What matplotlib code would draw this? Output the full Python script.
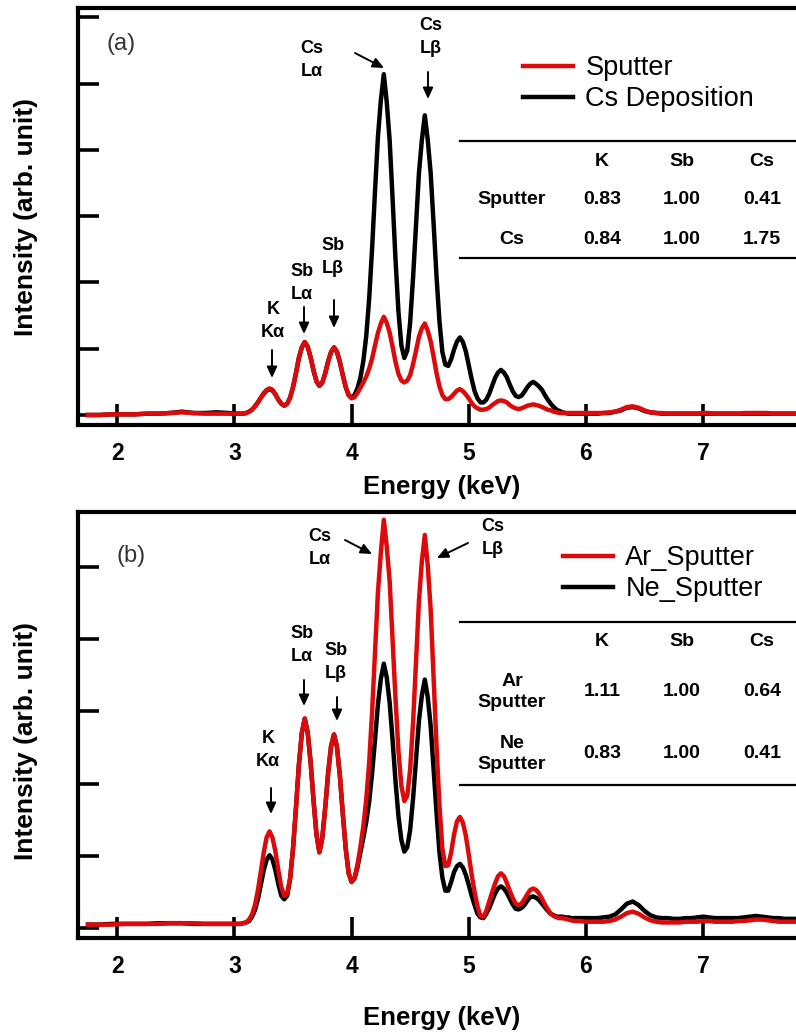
import matplotlib
matplotlib.use("Agg")
import matplotlib.pyplot as plt
from matplotlib.patches import FancyArrowPatch
import numpy as np

plt.rcParams['font.family'] = ['Liberation Sans', 'DejaVu Sans']

W, H = 796, 1034

# energy grid (keV): coarse on the flat part, fine over the peaks
e_low = np.round(np.arange(1.75, 2.96, 0.1), 3)
e_mid = np.round(np.arange(3.0, 5.9001, 0.025), 3)
e_high = np.round(np.arange(5.95, 7.8501, 0.05), 3)
energy = np.concatenate([e_low, e_mid, e_high])

# panel (a): Sputter vs Cs Deposition
sputter_a = ([0.00, 0.00, 0.01, 0.01, 0.01, 0.02, 0.02, 0.03, 0.04, 0.03, 0.02, 0.02, 0.02] +
             [0.02, 0.02, 0.02, 0.02, 0.03, 0.05, 0.08, 0.13, 0.19, 0.26,
              0.33, 0.38, 0.40, 0.38, 0.31, 0.23, 0.17, 0.14, 0.17, 0.26,
              0.42, 0.63, 0.86, 1.02, 1.10, 1.03, 0.87, 0.67, 0.51, 0.44,
              0.49, 0.63, 0.81, 0.95, 1.02, 0.95, 0.80, 0.60, 0.42, 0.30,
              0.25, 0.27, 0.33, 0.41, 0.49, 0.58, 0.70, 0.85, 1.05, 1.24,
              1.38, 1.48, 1.39, 1.24, 1.03, 0.80, 0.62, 0.52, 0.49, 0.52,
              0.60, 0.77, 0.97, 1.18, 1.31, 1.38, 1.27, 1.11, 0.88, 0.63,
              0.43, 0.30, 0.24, 0.24, 0.27, 0.32, 0.37, 0.39, 0.36, 0.31,
              0.25, 0.18, 0.13, 0.10, 0.08, 0.08, 0.09, 0.11, 0.15, 0.18,
              0.21, 0.22, 0.21, 0.19, 0.15, 0.12, 0.10, 0.09, 0.10, 0.12,
              0.14, 0.15, 0.16, 0.15, 0.14, 0.12, 0.10, 0.08, 0.07, 0.05,
              0.04, 0.03, 0.03, 0.03, 0.03, 0.03, 0.03] +
             [0.03, 0.03, 0.03, 0.03, 0.03, 0.04, 0.05, 0.08, 0.12, 0.13,
              0.11, 0.07, 0.04, 0.03, 0.03, 0.02, 0.02, 0.02, 0.02, 0.02,
              0.02, 0.03, 0.03, 0.02, 0.02, 0.02, 0.02, 0.02, 0.03, 0.03,
              0.03, 0.03, 0.03, 0.02, 0.02, 0.02, 0.02, 0.02, 0.02])
csdep_a = ([0.00, 0.00, 0.01, 0.01, 0.01, 0.02, 0.02, 0.03, 0.05, 0.03, 0.03, 0.04, 0.03] +
           [0.02, 0.02, 0.02, 0.02, 0.03, 0.05, 0.08, 0.13, 0.19, 0.26,
            0.32, 0.37, 0.39, 0.37, 0.31, 0.23, 0.17, 0.14, 0.17, 0.26,
            0.42, 0.63, 0.86, 1.02, 1.10, 1.03, 0.87, 0.67, 0.51, 0.44,
            0.49, 0.63, 0.81, 0.95, 1.02, 0.95, 0.80, 0.60, 0.42, 0.30,
            0.26, 0.30, 0.40, 0.56, 0.81, 1.19, 1.75, 2.51, 3.38, 4.20,
            4.75, 5.14, 4.72, 4.14, 3.26, 2.34, 1.56, 1.05, 0.86, 0.97,
            1.40, 2.08, 2.88, 3.65, 4.15, 4.52, 4.15, 3.65, 2.89, 2.09,
            1.41, 0.95, 0.76, 0.74, 0.84, 0.99, 1.11, 1.17, 1.10, 0.96,
            0.75, 0.54, 0.36, 0.25, 0.19, 0.19, 0.23, 0.32, 0.44, 0.56,
            0.64, 0.68, 0.64, 0.57, 0.46, 0.36, 0.29, 0.27, 0.29, 0.35,
            0.42, 0.47, 0.50, 0.47, 0.43, 0.38, 0.30, 0.23, 0.17, 0.12,
            0.08, 0.06, 0.04, 0.03, 0.02, 0.02, 0.02] +
           [0.02, 0.02, 0.02, 0.02, 0.03, 0.03, 0.05, 0.07, 0.11, 0.12,
            0.10, 0.06, 0.04, 0.03, 0.02, 0.02, 0.02, 0.02, 0.02, 0.02,
            0.02, 0.02, 0.02, 0.02, 0.02, 0.02, 0.02, 0.02, 0.02, 0.02,
            0.02, 0.02, 0.02, 0.02, 0.02, 0.02, 0.02, 0.02, 0.02])

# panel (b): Ar_Sputter vs Ne_Sputter
ar_b = ([0.05, 0.05, 0.05, 0.06, 0.06, 0.06, 0.06, 0.07, 0.07, 0.07, 0.06, 0.06, 0.06] +
        [0.06, 0.06, 0.06, 0.07, 0.08, 0.12, 0.19, 0.32, 0.52, 0.78,
         1.05, 1.26, 1.34, 1.25, 1.06, 0.80, 0.57, 0.45, 0.48, 0.69,
         1.10, 1.66, 2.26, 2.70, 2.90, 2.71, 2.30, 1.77, 1.30, 1.05,
         1.25, 1.67, 2.15, 2.52, 2.68, 2.51, 2.11, 1.58, 1.10, 0.76,
         0.64, 0.70, 0.88, 1.12, 1.41, 1.78, 2.29, 2.99, 3.82, 4.65,
         5.20, 5.65, 5.28, 4.80, 4.00, 3.17, 2.45, 1.97, 1.76, 1.83,
         2.20, 2.85, 3.68, 4.53, 5.08, 5.44, 5.02, 4.41, 3.48, 2.52,
         1.70, 1.10, 0.86, 0.87, 1.05, 1.30, 1.48, 1.54, 1.46, 1.28,
         1.02, 0.74, 0.50, 0.30, 0.17, 0.16, 0.24, 0.37, 0.50, 0.62,
         0.72, 0.76, 0.72, 0.63, 0.52, 0.42, 0.34, 0.32, 0.34, 0.40,
         0.47, 0.53, 0.55, 0.53, 0.48, 0.41, 0.33, 0.26, 0.20, 0.17,
         0.15, 0.14, 0.14, 0.13, 0.12, 0.11, 0.10] +
        [0.10, 0.09, 0.09, 0.09, 0.09, 0.10, 0.12, 0.16, 0.21, 0.23,
         0.20, 0.15, 0.11, 0.09, 0.08, 0.08, 0.08, 0.08, 0.09, 0.09,
         0.09, 0.10, 0.10, 0.09, 0.09, 0.09, 0.09, 0.10, 0.10, 0.11,
         0.12, 0.12, 0.11, 0.10, 0.09, 0.09, 0.09, 0.09, 0.09])
ne_b = ([0.05, 0.05, 0.06, 0.06, 0.06, 0.06, 0.07, 0.07, 0.07, 0.06, 0.06, 0.06, 0.06] +
        [0.06, 0.06, 0.06, 0.07, 0.08, 0.10, 0.16, 0.25, 0.40, 0.60,
         0.80, 0.95, 1.01, 0.95, 0.80, 0.61, 0.45, 0.40, 0.45, 0.68,
         1.10, 1.66, 2.26, 2.70, 2.90, 2.71, 2.30, 1.77, 1.30, 1.05,
         1.25, 1.67, 2.15, 2.52, 2.68, 2.51, 2.11, 1.58, 1.10, 0.76,
         0.64, 0.69, 0.84, 1.05, 1.25, 1.47, 1.75, 2.14, 2.61, 3.10,
         3.45, 3.66, 3.47, 3.12, 2.60, 2.03, 1.55, 1.22, 1.06, 1.12,
         1.36, 1.80, 2.34, 2.87, 3.22, 3.44, 3.20, 2.80, 2.20, 1.60,
         1.05, 0.70, 0.52, 0.52, 0.64, 0.78, 0.86, 0.89, 0.84, 0.74,
         0.60, 0.45, 0.32, 0.20, 0.15, 0.14, 0.20, 0.28, 0.38, 0.48,
         0.55, 0.58, 0.55, 0.49, 0.41, 0.33, 0.27, 0.26, 0.28, 0.32,
         0.38, 0.43, 0.44, 0.42, 0.39, 0.34, 0.29, 0.24, 0.20, 0.18,
         0.16, 0.16, 0.16, 0.15, 0.15, 0.14, 0.14] +
        [0.14, 0.14, 0.14, 0.14, 0.15, 0.16, 0.19, 0.26, 0.34, 0.37,
         0.32, 0.24, 0.18, 0.15, 0.14, 0.14, 0.13, 0.13, 0.14, 0.14,
         0.15, 0.16, 0.15, 0.14, 0.14, 0.14, 0.14, 0.14, 0.15, 0.16,
         0.17, 0.16, 0.15, 0.14, 0.14, 0.13, 0.13, 0.13, 0.13])

# composition tables (normalised to Sb)
elements = ['K', 'Sb', 'Cs']
rows_a = ['Sputter', 'Cs']
vals_a = [[0.83, 1.00, 0.41], [0.84, 1.00, 1.75]]
rows_b = ['Ar\nSputter', 'Ne\nSputter']
vals_b = [[1.11, 1.00, 0.64], [0.83, 1.00, 0.41]]

RED = '#dc0a0a'


def fp(x, y):
    # pixel position (from top-left) -> figure fraction
    return (x / W, 1 - y / H)


def style_axes(ax, ymin, ymax, nticks):
    ax.set_xlim(1.6645, 7.879)
    ax.set_ylim(ymin, ymax)
    ax.set_xticks([2, 3, 4, 5, 6, 7])
    ax.set_yticks(range(nticks))
    ax.set_yticklabels([])
    for s in ax.spines.values():
        s.set_linewidth(3)
    ax.tick_params(axis='x', direction='in', length=15, width=2.6, pad=12,
                   labelsize=16.5, top=False)
    ax.tick_params(axis='y', direction='in', length=15, width=2.6, right=False)
    for lab in ax.get_xticklabels():
        lab.set_fontweight('bold')
    ax.set_xlabel('Energy (keV)', fontsize=18.5, fontweight='bold')
    ax.set_ylabel('Intensity (arb. unit)', fontsize=19, fontweight='bold')


fig = plt.figure(figsize=(W / 100, H / 100), dpi=100)
ax_a = fig.add_axes([78 / W, 1 - 425 / H, 728 / W, 417 / H])
ax_b = fig.add_axes([78 / W, 1 - 938 / H, 728 / W, 426 / H])

leg_kw = dict(loc='upper left', frameon=False, bbox_transform=fig.transFigure,
              borderpad=0, borderaxespad=0, handlelength=1.85,
              handletextpad=0.45, labelspacing=0.19, fontsize=19.5)

# ---- panel (a)
la_blk, = ax_a.plot(energy, csdep_a, color='k', lw=3.2, label='Cs Deposition')
la_red, = ax_a.plot(energy, sputter_a, color=RED, lw=3.2, label='Sputter')
style_axes(ax_a, -0.151, 6.139, 7)
ax_a.xaxis.set_label_coords(0.5, -0.12)
ax_a.yaxis.set_label_coords(-0.055, 0.5)
ax_a.legend(handles=[la_red, la_blk], bbox_to_anchor=fp(523, 55), **leg_kw)

# ---- panel (b)
lb_blk, = ax_b.plot(energy, ne_b, color='k', lw=3.2, label='Ne_Sputter')
lb_red, = ax_b.plot(energy, ar_b, color=RED, lw=3.2, label='Ar_Sputter')
style_axes(ax_b, -0.135, 5.758, 6)
ax_b.xaxis.set_label_coords(0.5, -0.16)
ax_b.yaxis.set_label_coords(-0.055, 0.462)
ax_b.legend(handles=[lb_red, lb_blk], bbox_to_anchor=fp(563, 545), **leg_kw)

# panel letters
fig.text(*fp(107, 44), '(a)', fontsize=17, color='#333333', va='center')
fig.text(*fp(116, 556), '(b)', fontsize=17, color='#333333', va='center')

# peak labels and arrows: (text centre, arrow start, arrow end)
peak_a = [('K\nKα', (273, 321), (272, 350), (272, 378)),
          ('Sb\nLα', (302, 283), (304, 307), (304, 334)),
          ('Sb\nLβ', (333, 257), (334, 300), (334, 328)),
          ('Cs\nLα', (312, 60), (355, 53), (384, 68)),
          ('Cs\nLβ', (431, 37), (428, 72), (428, 99))]
peak_b = [('K\nKα', (268, 750), (271, 788), (271, 814)),
          ('Sb\nLα', (302, 645), (304, 680), (304, 706)),
          ('Sb\nLβ', (336, 662), (337, 697), (337, 721)),
          ('Cs\nLα', (320, 548), (345, 540), (372, 554)),
          ('Cs\nLβ', (493, 538), (468, 543), (437, 558))]
for lab, tpos, a0, a1 in peak_a + peak_b:
    fig.text(*fp(*tpos), lab, ha='center', va='center', fontsize=13,
             fontweight='bold', linespacing=1.4)
    fig.add_artist(FancyArrowPatch(
        fp(*a0), fp(*a1), transform=fig.transFigure,
        arrowstyle='-|>,head_length=0.55,head_width=0.25', mutation_scale=12,
        lw=1.4, color='k', shrinkA=0, shrinkB=0))


def draw_table(rows, vals, y_top, y_bot, y_head, y_rows):
    for yy in (y_top, y_bot):
        fig.add_artist(plt.Line2D([460 / W, 1.0], [1 - yy / H, 1 - yy / H],
                                  transform=fig.transFigure, color='k', lw=1.6))
    for el, xx in zip(elements, (602, 682, 762)):
        fig.text(*fp(xx, y_head), el, ha='center', va='center', fontsize=14,
                 fontweight='bold')
    for r, v, yy in zip(rows, vals, y_rows):
        fig.text(*fp(512, yy), r, ha='center', va='center', fontsize=14,
                 fontweight='bold', linespacing=1.25)
        for num, xx in zip(v, (602, 682, 762)):
            fig.text(*fp(xx, yy), '%.2f' % num, ha='center', va='center',
                     fontsize=14, fontweight='bold')


draw_table(rows_a, vals_a, 141, 258, 162, (200, 239))
draw_table(rows_b, vals_b, 622, 785, 642, (692, 754))

fig.savefig('out.png', dpi=100)
